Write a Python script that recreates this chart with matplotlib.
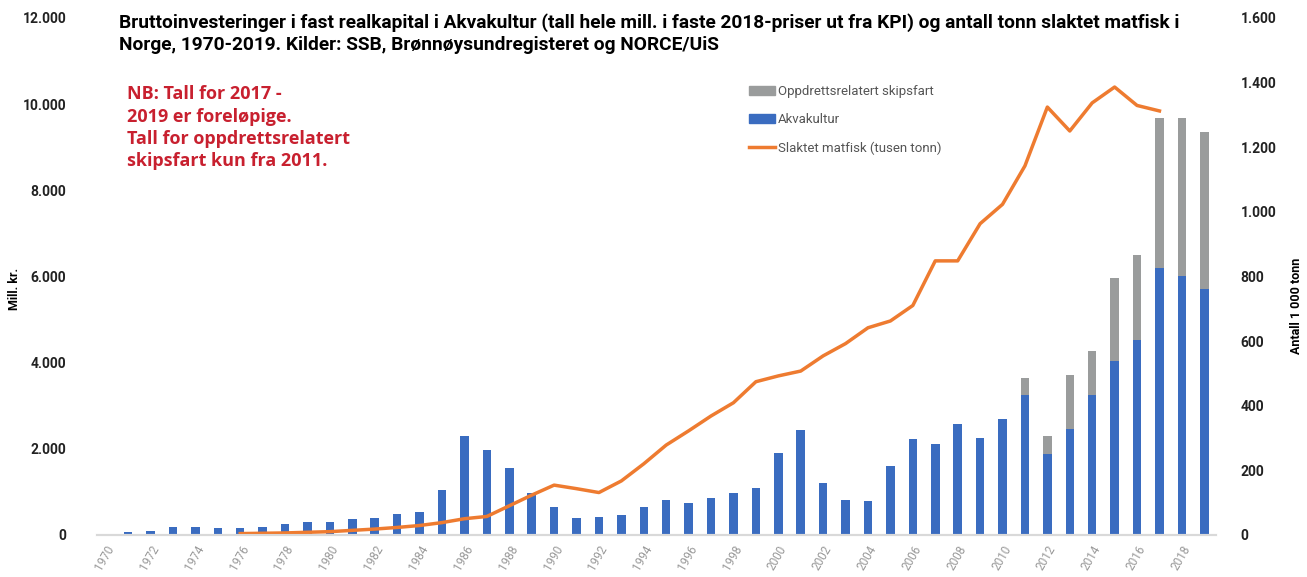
import numpy as np
import matplotlib.pyplot as plt
from matplotlib.patches import Patch
from matplotlib.lines import Line2D

# Data
years = list(range(1970, 2020))
akvakultur = [0, 60, 100, 180, 180, 150, 150, 180, 250, 300,
              300, 370, 400, 490, 530, 1040, 2300, 1970, 1560, 980,
              640, 390, 410, 450, 640, 810, 735, 865, 980, 1080,
              1900, 2440, 1200, 800, 790, 1600, 2220, 2120, 2570, 2240,
              2680, 3240, 1870, 2450, 3240, 4040, 4520, 6200, 6020, 5700]
skipsfart = [0] * 41 + [410, 430, 1250, 1030, 1920, 1970, 3480, 3660, 3650]
slaktet_years = list(range(1976, 2018))
slaktet = [4, 5, 6, 8, 10, 14, 18, 23, 29, 38,
           50, 57, 90, 123, 154, 143, 131, 167, 220, 278,
           322, 368, 409, 474, 492, 507, 554, 592, 641, 662,
           710, 848, 848, 963, 1023, 1142, 1324, 1250, 1337, 1386,
           1329, 1312]
tick_years = list(range(1970, 2019, 2))

BLUE = '#3a6cc0'
GRAY = '#9a9c9c'
ORANGE = '#ee7b30'
RED = '#c8202f'
COND = ['Liberation Sans Narrow', 'Roboto', 'DejaVu Sans']

fig = plt.figure(figsize=(13.07, 5.77), dpi=100)
ax = fig.add_axes([0.074, 0.073, 0.856, 0.896])
ax2 = ax.twinx()

ax.bar(years, akvakultur, width=0.38, color=BLUE, zorder=2)
ax.bar(years, skipsfart, bottom=akvakultur, width=0.38, color=GRAY, zorder=2)
ax2.plot(slaktet_years, slaktet, color=ORANGE, lw=2.5, solid_joinstyle='round')

ax.set_xlim(1969.6, 2019.5)
ax.set_ylim(0, 12000)
ax2.set_ylim(0, 1600)

for a in (ax, ax2):
    for s in ['top', 'left', 'right']:
        a.spines[s].set_visible(False)
    a.spines['bottom'].set_color('#d9d9d9')
    a.spines['bottom'].set_linewidth(1.5)

fmt = lambda v: '{:,}'.format(int(v)).replace(',', '.')
yt = np.arange(0, 12001, 2000)
ax.set_yticks(yt)
ax.set_yticklabels([fmt(v) for v in yt], fontsize=10, fontweight='bold',
                   family=COND, color='#222222')
ax.tick_params(axis='y', length=0, pad=22)
yt2 = np.arange(0, 1601, 200)
ax2.set_yticks(yt2)
ax2.set_yticklabels([fmt(v) for v in yt2], fontsize=10, fontweight='bold',
                    family=COND, color='#222222')
ax2.tick_params(axis='y', length=0, pad=18)

ax.set_xticks(tick_years)
ax.set_xticklabels([str(y) for y in tick_years], rotation=60, ha='right',
                   rotation_mode='anchor', fontsize=8.5, color='#999999', family=COND)
ax.tick_params(axis='x', length=0, pad=6)

fig.text(0.011, 0.50, 'Mill. kr.', rotation=90, fontsize=9, fontweight='bold',
         family=COND, ha='center', va='center')
fig.text(0.992, 0.47, 'Antall 1 000 tonn', rotation=90, fontsize=9, fontweight='bold',
         family=COND, ha='center', va='center')

fig.text(0.091, 0.978, 'Bruttoinvesteringer i fast realkapital i Akvakultur (tall hele mill. i faste '
         '2018-priser ut fra KPI) og antall tonn slaktet matfisk i\nNorge, 1970-2019. Kilder: SSB, '
         'Brønnøysundregisteret og NORCE/UiS',
         fontsize=13.8, fontweight='bold', family=COND, va='top', linespacing=1.3)

fig.text(0.097, 0.852, 'NB: Tall for 2017 -\n2019 er foreløpige.\nTall for oppdrettsrelatert\n'
         'skipsfart kun fra 2011.', color=RED, fontsize=13, fontweight='bold',
         family=['Open Sans', 'DejaVu Sans'], va='top', linespacing=1.3)

handles = [Patch(color=GRAY), Patch(color=BLUE), Line2D([], [], color=ORANGE, lw=2.5)]
labels = ['Oppdrettsrelatert skipsfart', 'Akvakultur', 'Slaktet matfisk (tusen tonn)']
ax.legend(handles, labels, loc='upper left', bbox_to_anchor=(0.572, 0.893), frameon=False,
          prop={'family': COND, 'size': 9.5}, labelcolor='#555555', handlelength=2.0,
          handleheight=0.6, handletextpad=0.2, labelspacing=1.15)

fig.savefig('out.png', dpi=100)
